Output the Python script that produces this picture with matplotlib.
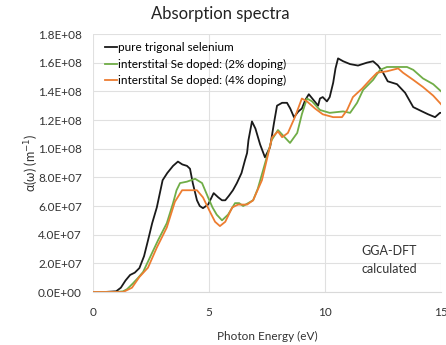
import matplotlib
matplotlib.use("Agg")
import matplotlib.pyplot as plt
import numpy as np

# Data (eV, alpha in m^-1)
pure_e = [0, 0.5, 1.0, 1.2, 1.4, 1.6, 1.8, 2.0, 2.2, 2.37, 2.55, 2.75, 3.0, 3.2, 3.45, 3.66, 3.85, 4.05, 4.18, 4.3, 4.48, 4.6, 4.74, 4.96, 5.2, 5.4, 5.56, 5.7, 5.85, 6.03, 6.2, 6.4, 6.55, 6.64, 6.7, 6.85, 7.0, 7.2, 7.41, 7.63, 7.8, 7.93, 8.15, 8.36, 8.5, 8.66, 8.85, 9.0, 9.15, 9.3, 9.5, 9.7, 9.78, 9.9, 10.08, 10.2, 10.35, 10.45, 10.56, 10.78, 11.08, 11.42, 11.8, 12.07, 12.28, 12.5, 12.7, 13.1, 13.45, 13.8, 14.18, 14.44, 14.74, 14.95, 15.0]
pure_a = [0, 0, 0.05e7, 0.3e7, 0.8e7, 1.19e7, 1.35e7, 1.67e7, 2.5e7, 3.6e7, 4.8e7, 5.9e7, 7.8e7, 8.3e7, 8.8e7, 9.1e7, 8.9e7, 8.8e7, 8.6e7, 7.6e7, 6.4e7, 6.0e7, 5.85e7, 6.1e7, 6.9e7, 6.6e7, 6.4e7, 6.4e7, 6.7e7, 7.1e7, 7.6e7, 8.3e7, 9.2e7, 9.7e7, 10.6e7, 11.9e7, 11.4e7, 10.3e7, 9.4e7, 10.1e7, 11.8e7, 13.0e7, 13.2e7, 13.2e7, 12.8e7, 12.2e7, 12.6e7, 12.8e7, 13.4e7, 13.8e7, 13.4e7, 13.0e7, 13.5e7, 13.6e7, 13.3e7, 13.6e7, 14.6e7, 15.6e7, 16.3e7, 16.1e7, 15.9e7, 15.8e7, 16.0e7, 16.1e7, 15.8e7, 15.3e7, 14.7e7, 14.5e7, 13.9e7, 12.9e7, 12.6e7, 12.4e7, 12.2e7, 12.5e7, 12.5e7]

dop2_e = [0, 0.5, 1.0, 1.3, 1.47, 1.72, 1.95, 2.16, 2.45, 2.8, 3.18, 3.45, 3.6, 3.75, 4.05, 4.4, 4.7, 4.96, 5.15, 5.33, 5.56, 5.82, 6.12, 6.3, 6.47, 6.9, 7.1, 7.33, 7.54, 7.7, 7.97, 8.2, 8.49, 8.8, 9.0, 9.22, 9.44, 9.78, 10.2, 10.78, 11.08, 11.38, 11.64, 12.07, 12.37, 12.67, 13.1, 13.53, 13.8, 14.22, 14.66, 15.0]
dop2_a = [0, 0, 0, 0.05e7, 0.2e7, 0.6e7, 1.0e7, 1.4e7, 2.4e7, 3.6e7, 4.8e7, 6.2e7, 7.1e7, 7.6e7, 7.7e7, 7.9e7, 7.6e7, 6.6e7, 5.9e7, 5.4e7, 5.0e7, 5.4e7, 6.2e7, 6.2e7, 6.0e7, 6.4e7, 7.2e7, 8.5e7, 9.7e7, 10.6e7, 11.3e7, 10.9e7, 10.4e7, 11.1e7, 12.4e7, 13.5e7, 13.3e7, 12.7e7, 12.5e7, 12.6e7, 12.5e7, 13.2e7, 14.1e7, 14.8e7, 15.5e7, 15.7e7, 15.7e7, 15.7e7, 15.5e7, 14.9e7, 14.5e7, 14.0e7]

dop4_e = [0, 0.5, 1.0, 1.3, 1.68, 2.0, 2.37, 2.75, 3.18, 3.53, 3.84, 4.2, 4.48, 4.74, 5.04, 5.26, 5.47, 5.7, 6.0, 6.25, 6.64, 6.9, 7.28, 7.5, 7.72, 7.97, 8.15, 8.4, 8.7, 9.0, 9.22, 9.57, 9.9, 10.35, 10.73, 10.95, 11.2, 11.6, 11.94, 12.24, 12.67, 13.15, 13.36, 13.8, 14.22, 14.66, 15.0]
dop4_a = [0, 0, 0, 0, 0.3e7, 1.05e7, 1.7e7, 3.1e7, 4.5e7, 6.3e7, 7.1e7, 7.1e7, 7.1e7, 6.6e7, 5.6e7, 4.9e7, 4.6e7, 4.9e7, 5.9e7, 6.1e7, 6.1e7, 6.4e7, 7.8e7, 9.3e7, 10.8e7, 11.2e7, 10.8e7, 11.1e7, 12.2e7, 13.5e7, 13.3e7, 12.8e7, 12.4e7, 12.2e7, 12.2e7, 12.7e7, 13.6e7, 14.2e7, 14.8e7, 15.3e7, 15.4e7, 15.6e7, 15.3e7, 14.8e7, 14.3e7, 13.7e7, 13.1e7]

labels = ["pure trigonal selenium", "interstital Se doped: (2% doping)", "interstital Se doped: (4% doping)"]
colors = ["#1a1a1a", "#70AD47", "#ED7D31"]
yticks = np.arange(0, 1.81e8, 2e7)
xticks = [0, 5, 10, 15]

plt.rcParams['font.family'] = ['Lato', 'DejaVu Sans']

fig = plt.figure(figsize=(4.46, 3.45), dpi=100)
ax = fig.add_axes([0.2085, 0.1536, 0.7805, 0.7478])

ax.plot(pure_e, pure_a, color=colors[0], lw=1.3, label=labels[0])
ax.plot(dop2_e, dop2_a, color=colors[1], lw=1.3, label=labels[1])
ax.plot(dop4_e, dop4_a, color=colors[2], lw=1.3, label=labels[2])

ax.set_xlim(0, 15)
ax.set_ylim(0, 1.8e8)
ax.set_xticks(xticks)
ax.set_yticks(yticks)
ax.set_yticklabels([f"{v/1e8:.1f}E+08" if v >= 1e8 else ("0.0E+00" if v == 0 else f"{v/1e7:.1f}E+07") for v in yticks])
ax.tick_params(axis='both', length=0, labelsize=8.5, colors="#333333")
ax.tick_params(axis='x', pad=11)
ax.tick_params(axis='y', pad=8)
ax.grid(True, color="#e0e0e0", lw=0.8)
ax.set_axisbelow(True)
for s in ["top", "right", "left"]:
    ax.spines[s].set_visible(False)
ax.spines["bottom"].set_color("#d9d9d9")

fig.text(0.495, 0.958, "Absorption spectra", fontsize=12, color="#222222", ha="center", va="center")
ax.set_xlabel("Photon Energy (eV)", fontsize=8.5, labelpad=9, color="#333333")
ax.set_ylabel("α(ω) (m$^{-1}$)", fontsize=9, color="#333333")
ax.yaxis.set_label_coords(-0.15, 0.5)

leg = ax.legend(loc="upper left", frameon=False, fontsize=8.5, handlelength=1.0,
                handletextpad=0.1, borderaxespad=0.3, labelspacing=0.45,
                bbox_to_anchor=(0.01, 1.0))

ax.text(0.772, 0.125, "GGA-DFT\ncalculated", transform=ax.transAxes, fontsize=9,
        color="#333333", linespacing=1.6, va="center")

fig.savefig("out.png", dpi=100)
